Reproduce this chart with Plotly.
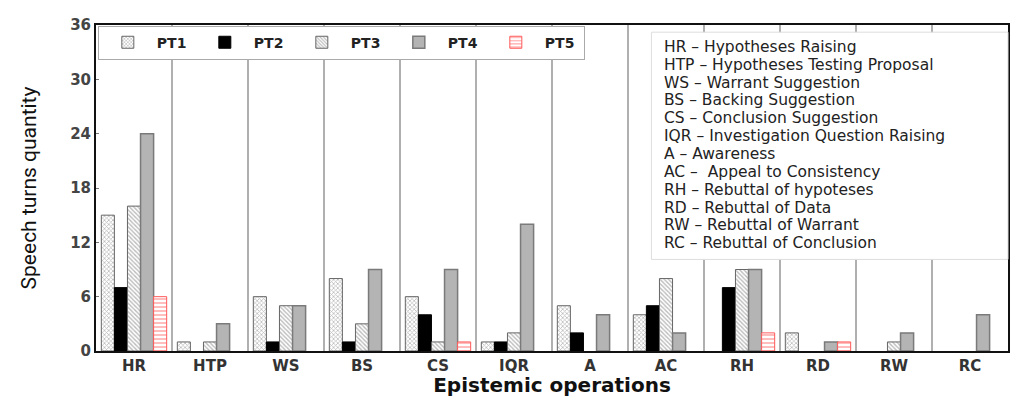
import plotly.graph_objects as go

categories = ["HR", "HTP", "WS", "BS", "CS", "IQR", "A", "AC", "RH", "RD", "RW", "RC"]
series_names = ["PT1", "PT2", "PT3", "PT4", "PT5"]
PT1 = [15, 1, 6, 8, 6, 1, 5, 4, 0, 2, 0, 0]
PT2 = [7, 0, 1, 1, 4, 1, 2, 5, 7, 0, 0, 0]
PT3 = [16, 1, 5, 3, 1, 2, 0, 8, 9, 0, 1, 0]
PT4 = [24, 3, 5, 9, 9, 14, 4, 2, 9, 1, 2, 4]
PT5 = [6, 0, 0, 0, 1, 0, 0, 0, 2, 1, 0, 0]
y_ticks = [0, 6, 12, 18, 24, 30, 36]
abbreviations = [
    "HR \u2013 Hypotheses Raising",
    "HTP \u2013 Hypotheses Testing Proposal",
    "WS \u2013 Warrant Suggestion",
    "BS \u2013 Backing Suggestion",
    "CS \u2013 Conclusion Suggestion",
    "IQR \u2013 Investigation Question Raising",
    "A \u2013 Awareness",
    "AC \u2013  Appeal to Consistency",
    "RH \u2013 Rebuttal of hypoteses",
    "RD \u2013 Rebuttal of Data",
    "RW \u2013 Rebuttal of Warrant",
    "RC \u2013 Rebuttal of Conclusion",
]

series_values = [PT1, PT2, PT3, PT4, PT5]
styles = [
    dict(color="white", line=dict(color="#666", width=1),
         pattern=dict(shape="x", fgcolor="#777", size=3, solidity=0.45)),
    dict(color="black", line=dict(color="black", width=1)),
    dict(color="white", line=dict(color="#666", width=1),
         pattern=dict(shape="\\", fgcolor="#777", size=3, solidity=0.45)),
    dict(color="#b4b4b4", line=dict(color="#7a7a7a", width=1.5)),
    dict(color="white", line=dict(color="#ff5a5a", width=1),
         pattern=dict(shape="-", fgcolor="#ff5a5a", size=4, solidity=0.4)),
]

x_idx = list(range(len(categories)))
fig = go.Figure()
for name, vals, st in zip(series_names, series_values, styles):
    fig.add_trace(go.Bar(
        x=x_idx, y=[v if v else None for v in vals], name=name, marker=st,
    ))

fig.update_layout(
    width=1019, height=397,
    margin=dict(l=96, r=11, t=25, b=46),
    paper_bgcolor="white", plot_bgcolor="white",
    barmode="group", bargap=0.14, bargroupgap=0,
    showlegend=True,
    legend=dict(
        orientation="h", x=0.002, y=0.998, xanchor="left", yanchor="top",
        bgcolor="white", bordercolor="#aaa", borderwidth=1,
        font=dict(family="DejaVu Sans", size=14, weight="bold", color="#222"),
        itemwidth=48, entrywidth=34, tracegroupgap=0,
    ),
    font=dict(family="DejaVu Sans", color="#222"),
)

fig.update_xaxes(
    range=[-0.5, len(categories) - 0.5],
    tickmode="array", tickvals=x_idx, ticktext=categories,
    tickfont=dict(family="DejaVu Sans", size=15, weight="bold", color="#333"),
    showgrid=False, zeroline=False, automargin=False,
    showline=True, mirror=True, linecolor="#111", linewidth=2,
    ticks="",
    minor=dict(tickvals=[i + 0.5 for i in x_idx[:-1]], showgrid=True,
               gridcolor="#b0b0b0", gridwidth=2, ticks=""),
    title=dict(text="Epistemic operations", standoff=0,
               font=dict(family="DejaVu Sans", size=20, weight="bold", color="#111")),
)
fig.update_yaxes(
    range=[0, 36], tickmode="array", tickvals=y_ticks,
    tickfont=dict(family="DejaVu Sans", size=15, weight="bold", color="#444"),
    showgrid=False, zeroline=False, automargin=False,
    showline=True, mirror=True, linecolor="#111", linewidth=2,
    ticks="inside", ticklen=3, tickcolor="#777",
    title=dict(text="Speech turns quantity", standoff=28,
               font=dict(family="Liberation Sans Narrow, Roboto", size=21, color="#111")),
)

# abbreviation box
box_x0, box_y_top, box_y_bot = 0.609, 0.978, 0.281
first_line, line_step = 0.933, 0.0548
fig.add_shape(type="rect", xref="paper", yref="paper",
              x0=box_x0, x1=1.0, y0=box_y_bot, y1=box_y_top,
              line=dict(color="#dddddd", width=1), fillcolor="white", layer="above")
for i, txt in enumerate(abbreviations):
    fig.add_annotation(
        xref="paper", yref="paper", x=box_x0 + 0.012, y=first_line - i * line_step,
        text=txt, showarrow=False, xanchor="left", yanchor="middle", align="left",
        font=dict(family="DejaVu Sans", size=15.5, color="#222"),
    )

fig.write_html("out.html")
